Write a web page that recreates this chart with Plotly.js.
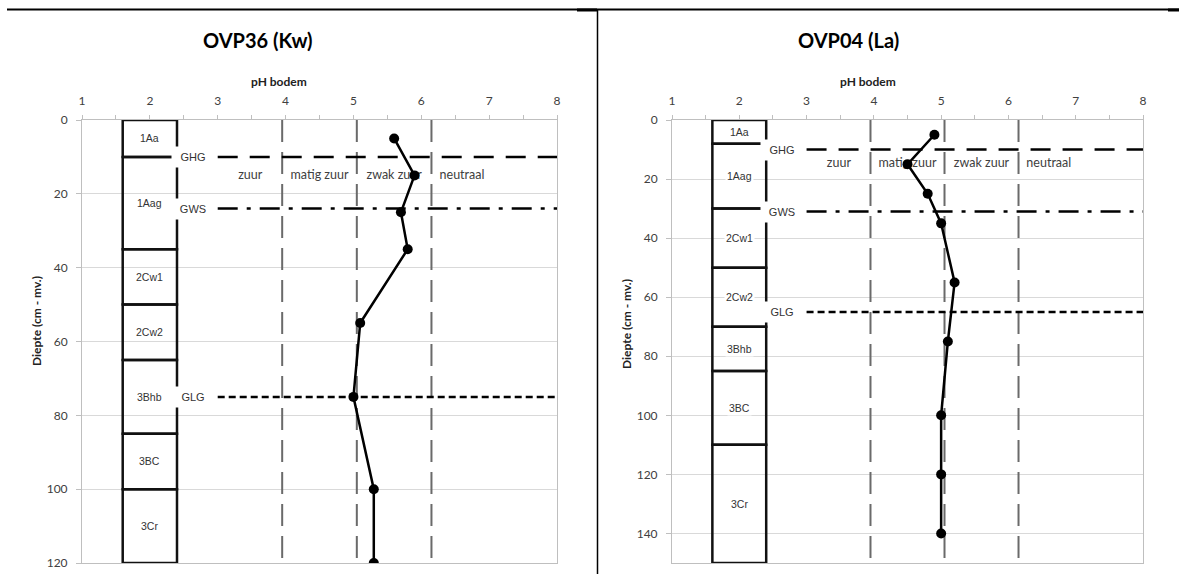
<!DOCTYPE html>
<html>
<head>
<meta charset="utf-8">
<script src="https://cdn.plot.ly/plotly-3.0.1.min.js"></script>
<style>html,body{margin:0;padding:0;background:#fff;}#chart{width:1179px;height:574px;}</style>
</head>
<body>
<div id="chart"></div>
<script>
// ---------- DATA ----------
// Left profile: OVP36 (Kw)
const titleL = 'OVP36 (Kw)';
const depthL = [5, 15, 25, 35, 55, 75, 100, 120];
const phL = [5.6, 5.9, 5.7, 5.8, 5.1, 5.0, 5.3, 5.3];
const horizonNamesL = ['1Aa', '1Aag', '2Cw1', '2Cw2', '3Bhb', '3BC', '3Cr'];
const horizonTopL = [0, 10, 35, 50, 65, 85, 100];
const horizonBottomL = [10, 35, 50, 65, 85, 100, 120];
const waterNamesL = ['GHG', 'GWS', 'GLG'];
const waterDepthL = [10, 24, 75];
const depthMaxL = 120;

// Right profile: OVP04 (La)
const titleR = 'OVP04 (La)';
const depthR = [5, 15, 25, 35, 55, 75, 100, 120, 140];
const phR = [4.9, 4.5, 4.8, 5.0, 5.2, 5.1, 5.0, 5.0, 5.0];
const horizonNamesR = ['1Aa', '1Aag', '2Cw1', '2Cw2', '3Bhb', '3BC', '3Cr'];
const horizonTopR = [0, 8, 30, 50, 70, 85, 110];
const horizonBottomR = [8, 30, 50, 70, 85, 110, 150];
const waterNamesR = ['GHG', 'GWS', 'GLG'];
const waterDepthR = [10, 31, 65];
const depthMaxR = 150;

// pH classes
const zoneBoundaries = [3.95, 5.05, 6.15];
const zoneNames = ['zuur', 'matig zuur', 'zwak zuur', 'neutraal'];
const xTitle = 'pH bodem';
const yTitle = 'Diepte (cm - mv.)';

// ---------- LAYOUT HELPERS ----------
const W = 1179, H = 574;
const px = v => v / W;
const py = v => 1 - v / H;
const TXT = '#404040';
const GRID = '#d9d9d9';
const AX = '#bfbfbf';
const waterDash = {GHG: '20px,12px', GWS: '20px,9px,4px,9px', GLG: '7px,4px'};
const zoneLabelX = [3.48, 4.5, 5.6, 6.6];

const traces = [];
const shapes = [];
const annotations = [];

function build(sfx, depth, ph, hNames, hTop, hBot, wNames, wDepth, dMax) {
  const xr = 'x' + sfx, yr = 'y' + sfx;
  // zone labels (drawn under the data)
  traces.push({
    x: zoneLabelX, y: zoneNames.map(() => 15), text: zoneNames,
    mode: 'text', xaxis: xr, yaxis: yr, hoverinfo: 'skip',
    textfont: {family: 'Lato, sans-serif', size: 12.5, color: TXT}
  });
  // data
  traces.push({
    x: ph, y: depth, mode: 'lines+markers', xaxis: xr, yaxis: yr,
    line: {color: '#000', width: 2.5},
    marker: {color: '#000', size: 10}
  });
  // zone boundary lines
  zoneBoundaries.forEach(b => shapes.push({
    type: 'line', xref: xr, yref: yr, x0: b, x1: b, y0: 0, y1: dMax,
    layer: 'between', line: {color: '#6a6a6a', width: 2, dash: '22px,10px'}
  }));
  // horizons
  hNames.forEach((n, i) => {
    shapes.push({
      type: 'rect', xref: xr, yref: yr, x0: 1.6, x1: 2.4, y0: hTop[i], y1: hBot[i],
      layer: 'between', line: {color: '#111', width: 2.5}
    });
    annotations.push({
      xref: xr, yref: yr, x: 2, y: (hTop[i] + hBot[i]) / 2, text: n, showarrow: false,
      font: {family: '"Liberation Sans", Arial, sans-serif', size: 10.5, color: '#333'},
      bgcolor: '#fff', borderpad: 1
    });
  });
  // water levels
  wNames.forEach((n, i) => {
    shapes.push({
      type: 'line', xref: xr, yref: yr, x0: 3, x1: 8, y0: wDepth[i], y1: wDepth[i],
      layer: 'between', line: {color: '#000', width: 2.5, dash: waterDash[n]}
    });
    annotations.push({
      xref: xr, yref: yr, x: 2.63, y: wDepth[i], text: n, showarrow: false,
      font: {family: '"Liberation Sans", Arial, sans-serif', size: 11, color: '#333'},
      bgcolor: '#fff', width: 36, height: 14, borderpad: 3
    });
  });
}

build('', depthL, phL, horizonNamesL, horizonTopL, horizonBottomL, waterNamesL, waterDepthL, depthMaxL);
build('2', depthR, phR, horizonNamesR, horizonTopR, horizonBottomR, waterNamesR, waterDepthR, depthMaxR);

// titles
[[titleL, 258], [titleR, 848]].forEach(([t, x]) => annotations.push({
  xref: 'paper', yref: 'paper', x: px(x), y: py(40), text: '<b>' + t + '</b>', showarrow: false,
  xanchor: 'center', yanchor: 'middle', font: {family: 'Lato, sans-serif', size: 20, color: '#000'}
}));
[279, 868].forEach(x => annotations.push({
  xref: 'paper', yref: 'paper', x: px(x), y: py(82), text: '<b>' + xTitle + '</b>', showarrow: false,
  xanchor: 'center', yanchor: 'middle', font: {family: 'Lato, sans-serif', size: 12, color: '#222'}
}));
[[36, 321], [626, 324]].forEach(([x, y]) => annotations.push({
  xref: 'paper', yref: 'paper', x: px(x), y: py(y), text: '<b>' + yTitle + '</b>', showarrow: false,
  textangle: -90, xanchor: 'center', yanchor: 'middle', font: {family: 'Lato, sans-serif', size: 12, color: '#222'}
}));

// page frame lines
shapes.push({type: 'line', xref: 'paper', yref: 'paper', x0: px(7), x1: 1, y0: py(9.5), y1: py(9.5), line: {color: '#000', width: 2}});
shapes.push({type: 'line', xref: 'paper', yref: 'paper', x0: px(577), x1: px(597), y0: py(10), y1: py(10), line: {color: '#000', width: 3}});
shapes.push({type: 'line', xref: 'paper', yref: 'paper', x0: px(1168), x1: 1, y0: py(10), y1: py(10), line: {color: '#000', width: 3}});
shapes.push({type: 'line', xref: 'paper', yref: 'paper', x0: px(597.5), x1: px(597.5), y0: 0, y1: py(10), line: {color: '#000', width: 1.5}});

function xAxis(dom, anchor) {
  return {
    domain: dom, range: [1, 8], side: 'top', anchor: anchor, dtick: 1, tick0: 1,
    showgrid: false, zeroline: false, showline: true, linecolor: AX, linewidth: 1, mirror: true,
    ticks: 'outside', ticklen: 4, tickcolor: AX, ticklabelstandoff: 5,
    minor: {dtick: 0.5, ticks: 'outside', ticklen: 4, tickcolor: AX, showgrid: false},
    tickfont: {family: 'Lato, sans-serif', size: 12, color: TXT}, fixedrange: true
  };
}
function yAxis(dom, anchor, dMax) {
  return {
    domain: dom, range: [dMax, 0], anchor: anchor, dtick: 20, tick0: 0,
    showgrid: true, gridcolor: GRID, gridwidth: 1, zeroline: false,
    showline: true, linecolor: AX, linewidth: 1, mirror: true,
    ticks: 'outside', ticklen: 5, tickcolor: AX, ticklabelstandoff: 6,
    tickfont: {family: 'Lato, sans-serif', size: 12, color: TXT}, fixedrange: true
  };
}
const yDom = [1 - 563 / H, 1 - 120 / H];
const layout = {
  width: W, height: H, margin: {l: 0, r: 0, t: 0, b: 0},
  paper_bgcolor: '#fff', plot_bgcolor: '#fff', showlegend: false,
  xaxis: xAxis([px(82), px(557)], 'y'),
  yaxis: yAxis(yDom, 'x', depthMaxL),
  xaxis2: xAxis([px(672), px(1143)], 'y2'),
  yaxis2: yAxis(yDom, 'x2', depthMaxR),
  shapes: shapes, annotations: annotations
};
Plotly.newPlot('chart', traces, layout, {displayModeBar: false, staticPlot: true});
</script>
</body>
</html>
